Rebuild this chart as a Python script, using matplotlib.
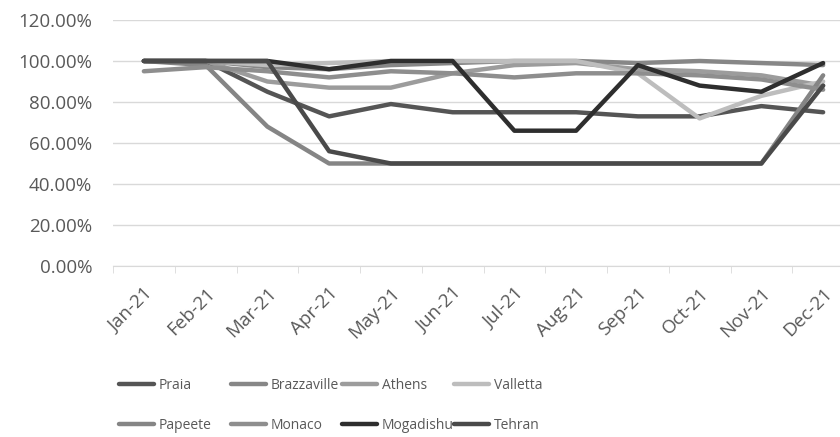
import numpy as np
import matplotlib
matplotlib.use("Agg")
import matplotlib.pyplot as plt
from matplotlib.ticker import FuncFormatter, FixedLocator

plt.rcParams['font.family'] = ['Open Sans', 'DejaVu Sans']

months = ["Jan-21", "Feb-21", "Mar-21", "Apr-21", "May-21", "Jun-21",
          "Jul-21", "Aug-21", "Sep-21", "Oct-21", "Nov-21", "Dec-21"]

praia = [100, 100, 85, 73, 79, 75, 75, 75, 73, 73, 78, 75]
brazzaville = [100, 100, 97, 96, 98, 99, 100, 100, 99, 100, 99, 98]
athens = [100, 100, 90, 87, 87, 94, 98, 99, 96, 95, 93, 88]
valletta = [100, 100, 98, 99, 100, 100, 100, 100, 94, 72, 83, 90]
papeete = [100, 98, 68, 50, 50, 50, 50, 50, 50, 50, 50, 93]
monaco = [95, 97, 95, 92, 95, 94, 92, 94, 94, 93, 91, 86]
mogadishu = [100, 100, 100, 96, 100, 100, 66, 66, 98, 88, 85, 99]
tehran = [100, 100, 100, 56, 50, 50, 50, 50, 50, 50, 50, 88]

cities = ["Praia", "Brazzaville", "Athens", "Valletta",
          "Papeete", "Monaco", "Mogadishu", "Tehran"]
series = [praia, brazzaville, athens, valletta,
          papeete, monaco, mogadishu, tehran]
colors = ["#555555", "#878787", "#9c9c9c", "#bdbdbd",
          "#858585", "#8e8e8e", "#2e2e2e", "#4a4a4a"]

fig = plt.figure(figsize=(8.4, 4.37), dpi=100)
ax = fig.add_axes([113 / 840, (437 - 266) / 437, (854 - 113) / 840, 246 / 437])

x = np.arange(len(months))
# draw back to front so the dark lines sit on top
order = [3, 2, 5, 1, 4, 7, 0, 6]
lines = {}
for i in order:
    ln, = ax.plot(x, series[i], color=colors[i], linewidth=3.2,
                  solid_capstyle='round', label=cities[i], zorder=3 + i)
    lines[cities[i]] = ln

ax.set_xlim(-0.5, len(months) - 0.5)
ax.set_ylim(0, 120)
ax.set_yticks(np.arange(0, 121, 20))
ax.yaxis.set_major_formatter(FuncFormatter(lambda v, p: f"{v:.2f}%"))
ax.grid(axis='y', color="#d9d9d9", linewidth=1)
ax.set_axisbelow(True)

for s in ["top", "right", "left"]:
    ax.spines[s].set_visible(False)
ax.spines["bottom"].set_color("#d9d9d9")
ax.tick_params(axis='y', length=0, pad=15, labelsize=13.5, labelcolor="#595959")

ax.set_xticks(x)
ax.set_xticklabels(months, rotation=45, ha='right', rotation_mode='anchor')
ax.tick_params(axis='x', which='major', length=0, pad=13,
               labelsize=13.5, labelcolor="#595959")
ax.xaxis.set_minor_locator(FixedLocator(np.arange(-0.5, len(months), 1)))
ax.tick_params(axis='x', which='minor', length=5, color="#d9d9d9")

# legend laid out as four fixed-width columns of two entries each
col_x = [119, 231, 342, 454]
for c in range(4):
    names = [cities[c], cities[c + 4]]
    fig.legend([lines[n] for n in names], names, loc='upper left',
               bbox_to_anchor=(col_x[c] / 840, 1 - 378 / 437),
               frameon=False, fontsize=10, labelcolor="#595959",
               handlelength=2.5, handletextpad=0.35, labelspacing=1.8,
               borderpad=0, borderaxespad=0)

fig.savefig("out.png", dpi=100)
